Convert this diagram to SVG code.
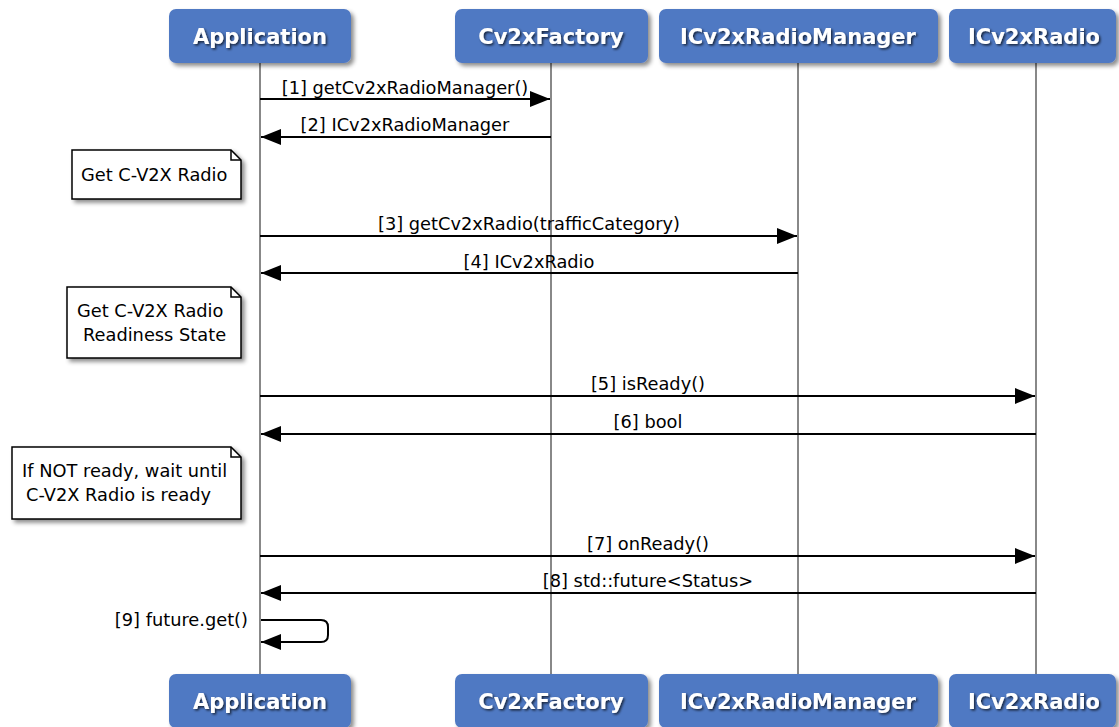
<svg xmlns="http://www.w3.org/2000/svg" width="1119" height="727" viewBox="0 0 1119 727">
<defs>
<filter id="sh" x="-10%" y="-10%" width="130%" height="140%">
<feDropShadow dx="3" dy="3" stdDeviation="2" flood-color="#000" flood-opacity="0.45"/>
</filter>
<filter id="tsh" x="-10%" y="-20%" width="130%" height="160%">
<feDropShadow dx="1.5" dy="1.5" stdDeviation="1" flood-color="#000" flood-opacity="0.7"/>
</filter>
<marker id="ah" markerWidth="20" markerHeight="16" refX="20" refY="8" orient="auto" markerUnits="userSpaceOnUse">
<polygon points="0,0 20,8 0,16" fill="#000"/>
</marker>
<style>
.box{fill:#5079c3;filter:url(#sh)}
.bt{font-family:"DejaVu Sans",sans-serif;font-weight:bold;font-size:21px;fill:#fff;text-anchor:middle;filter:url(#tsh)}
.life{stroke:#888;stroke-width:2;fill:none}
.msg{stroke:#000;stroke-width:2;fill:none;marker-end:url(#ah)}
.ml{font-family:"DejaVu Sans",sans-serif;font-size:17.8px;fill:#000;text-anchor:middle}
.note{fill:#fff;stroke:#000;stroke-width:1.5;filter:url(#sh)}
.nt{font-family:"DejaVu Sans",sans-serif;font-size:17.8px;fill:#000}
</style>
</defs>
<rect width="1119" height="727" fill="#fff"/>
<g id="lifelines">
<line class="life" x1="260" y1="63" x2="260" y2="674"/>
<line class="life" x1="551" y1="63" x2="551" y2="674"/>
<line class="life" x1="798" y1="63" x2="798" y2="674"/>
<line class="life" x1="1036" y1="63" x2="1036" y2="674"/>
</g>
<g id="Application">
<rect class="box" x="169" y="9" width="182" height="54" rx="7"/>
<text class="bt" x="260" y="44">Application</text>
<rect class="box" x="169" y="674" width="182" height="54" rx="7"/>
<text class="bt" x="260" y="709">Application</text>
</g>
<g id="Cv2xFactory">
<rect class="box" x="455" y="9" width="193" height="54" rx="7"/>
<text class="bt" x="551" y="44">Cv2xFactory</text>
<rect class="box" x="455" y="674" width="193" height="54" rx="7"/>
<text class="bt" x="551" y="709">Cv2xFactory</text>
</g>
<g id="ICv2xRadioManager">
<rect class="box" x="659" y="9" width="279" height="54" rx="7"/>
<text class="bt" x="798" y="44">ICv2xRadioManager</text>
<rect class="box" x="659" y="674" width="279" height="54" rx="7"/>
<text class="bt" x="798" y="709">ICv2xRadioManager</text>
</g>
<g id="ICv2xRadio">
<rect class="box" x="949" y="9" width="167" height="54" rx="7"/>
<text class="bt" x="1034" y="44">ICv2xRadio</text>
<rect class="box" x="949" y="674" width="167" height="54" rx="7"/>
<text class="bt" x="1034" y="709">ICv2xRadio</text>
</g>
<g id="notes">
<g id="note1">
<path class="note" d="M72,150 H231 L241,160 V199 H72 Z"/>
<path d="M231,150 V160 H241" fill="none" stroke="#000" stroke-width="1.5"/>
<text class="nt" x="81" y="181">Get C-V2X Radio</text>
</g>
<g id="note2">
<path class="note" d="M67,287 H231 L241,297 V358 H67 Z"/>
<path d="M231,287 V297 H241" fill="none" stroke="#000" stroke-width="1.5"/>
<text class="nt" x="77" y="317">Get C-V2X Radio</text>
<text class="nt" x="83" y="341">Readiness State</text>
</g>
<g id="note3">
<path class="note" d="M12,447 H231 L241,457 V519 H12 Z"/>
<path d="M231,447 V457 H241" fill="none" stroke="#000" stroke-width="1.5"/>
<text class="nt" x="22" y="477">If NOT ready, wait until</text>
<text class="nt" x="26" y="501">C-V2X Radio is ready</text>
</g>
</g>
<g id="connectors">
<line class="msg" x1="260" y1="99" x2="550" y2="99"/>
<text class="ml" x="405" y="94">[1] getCv2xRadioManager()</text>
<line class="msg" x1="551" y1="137" x2="261" y2="137"/>
<text class="ml" x="405" y="131">[2] ICv2xRadioManager</text>
<line class="msg" x1="260" y1="236" x2="797" y2="236"/>
<text class="ml" x="529" y="230">[3] getCv2xRadio(trafficCategory)</text>
<line class="msg" x1="798" y1="273" x2="261" y2="273"/>
<text class="ml" x="529" y="268">[4] ICv2xRadio</text>
<line class="msg" x1="260" y1="396" x2="1035" y2="396"/>
<text class="ml" x="648" y="390">[5] isReady()</text>
<line class="msg" x1="1036" y1="434" x2="261" y2="434"/>
<text class="ml" x="648" y="428">[6] bool</text>
<line class="msg" x1="260" y1="556" x2="1035" y2="556"/>
<text class="ml" x="648" y="550">[7] onReady()</text>
<line class="msg" x1="1036" y1="593" x2="261" y2="593"/>
<text class="ml" x="648" y="587">[8] std::future&lt;Status&gt;</text>
<path class="msg" d="M261,620 H321 Q328,620 328,627 V635 Q328,642 321,642 H261"/>
<text class="ml" x="248" y="626" style="text-anchor:end">[9] future.get()</text>
</g>
</svg>
